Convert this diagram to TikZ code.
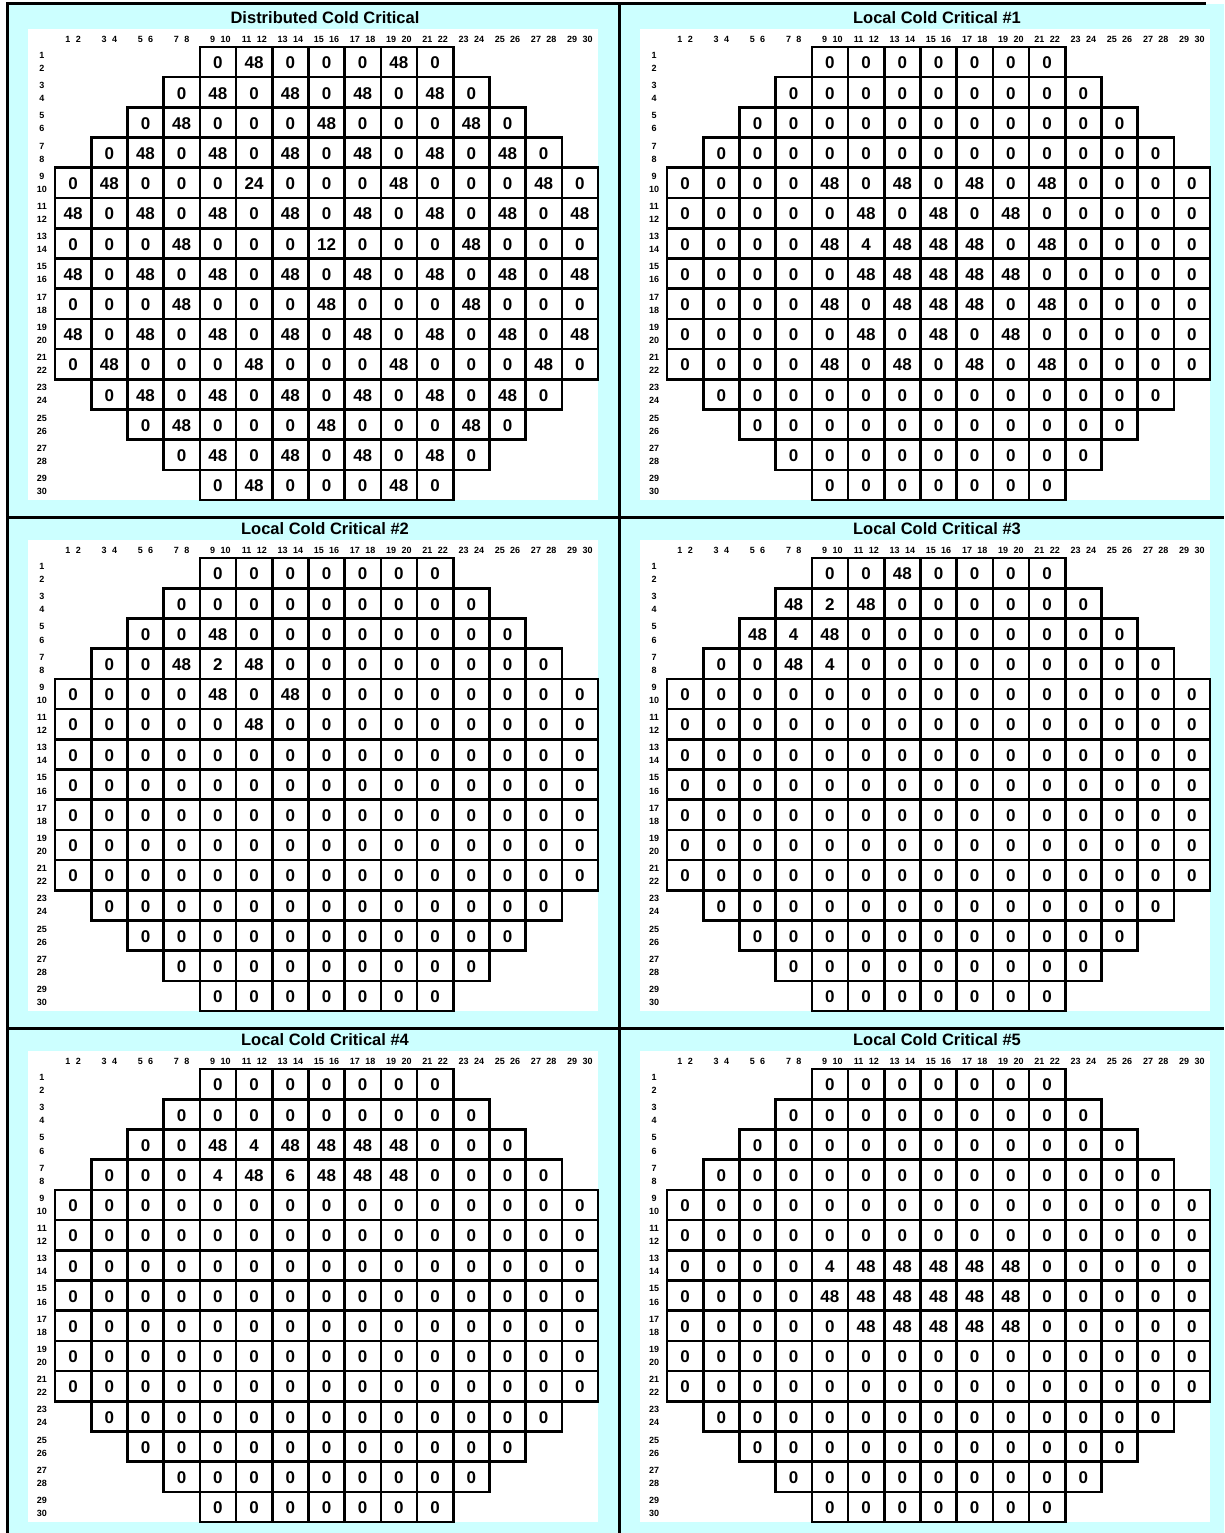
\documentclass[tikz,border=0pt]{standalone}
\usepackage{fontspec}
\setmainfont{Liberation Sans}
\definecolor{bgcyan}{RGB}{204,255,255}
\tikzset{
  valtext/.style={font=\fontsize{17}{17}\selectfont\bfseries, inner sep=0pt, anchor=center},
  smalltext/.style={font=\fontsize{9}{9}\selectfont\bfseries, inner sep=0pt},
  titletext/.style={font=\fontsize{16.5}{16.5}\selectfont\bfseries, inner sep=0pt},
  cellbox/.style={draw=black, line width=2.6pt},
  frameline/.style={draw=black, line width=3pt},
}
\newcommand\drawpanel[5]{%
  \begin{scope}[shift={(#1,#2)}]
    \fill[white] (28,29) rectangle (598,500);
    \node[titletext] (#4-title) at (325,18) {#3};
    \foreach \c in {0,...,14} {
      \pgfmathtruncatemacro\oddn{2*\c+1}
      \pgfmathtruncatemacro\evenn{2*\c+2}
      \node[smalltext, anchor=east] (#4-ch\oddn) at ({73.1+36.2*\c-2.5},39) {\oddn};
      \node[smalltext, anchor=west] (#4-ch\evenn) at ({73.1+36.2*\c+2.5},39) {\evenn};
      \node[smalltext] (#4-rh\oddn) at (42,{47+30.2*\c+8.5}) {\oddn};
      \node[smalltext] (#4-rh\evenn) at (42,{47+30.2*\c+21.5}) {\evenn};
    }
    \foreach \rowvals [count=\r from 0] in {#5} {
      \pgfmathtruncatemacro\st{max(0,4-\r,\r-10)}
      \foreach \v [count=\k from 0] in \rowvals {
        \pgfmathsetmacro\cx{55+36.2*(\st+\k)}
        \pgfmathsetmacro\ry{47+30.2*\r}
        \draw[cellbox] (\cx,\ry) rectangle ++(36.2,30.2);
        \node[valtext] (#4-\r-\k) at ({\cx+18.1},{\ry+16}) {\v};
      }
    }
  \end{scope}
}
\begin{document}
\begin{tikzpicture}[x=1pt,y=-1pt]
\useasboundingbox (0,0) rectangle (1224,1533);
\fill[white] (0,0) rectangle (1224,1533);
\fill[bgcyan] (8,4) rectangle (1224,1533);
\drawpanel{0}{0}{Distributed Cold Critical}{pa}{
{0,48,0,0,0,48,0},
{0,48,0,48,0,48,0,48,0},
{0,48,0,0,0,48,0,0,0,48,0},
{0,48,0,48,0,48,0,48,0,48,0,48,0},
{0,48,0,0,0,24,0,0,0,48,0,0,0,48,0},
{48,0,48,0,48,0,48,0,48,0,48,0,48,0,48},
{0,0,0,48,0,0,0,12,0,0,0,48,0,0,0},
{48,0,48,0,48,0,48,0,48,0,48,0,48,0,48},
{0,0,0,48,0,0,0,48,0,0,0,48,0,0,0},
{48,0,48,0,48,0,48,0,48,0,48,0,48,0,48},
{0,48,0,0,0,48,0,0,0,48,0,0,0,48,0},
{0,48,0,48,0,48,0,48,0,48,0,48,0},
{0,48,0,0,0,48,0,0,0,48,0},
{0,48,0,48,0,48,0,48,0},
{0,48,0,0,0,48,0}}
\drawpanel{612}{0}{Local Cold Critical \#1}{pb}{
{0,0,0,0,0,0,0},
{0,0,0,0,0,0,0,0,0},
{0,0,0,0,0,0,0,0,0,0,0},
{0,0,0,0,0,0,0,0,0,0,0,0,0},
{0,0,0,0,48,0,48,0,48,0,48,0,0,0,0},
{0,0,0,0,0,48,0,48,0,48,0,0,0,0,0},
{0,0,0,0,48,4,48,48,48,0,48,0,0,0,0},
{0,0,0,0,0,48,48,48,48,48,0,0,0,0,0},
{0,0,0,0,48,0,48,48,48,0,48,0,0,0,0},
{0,0,0,0,0,48,0,48,0,48,0,0,0,0,0},
{0,0,0,0,48,0,48,0,48,0,48,0,0,0,0},
{0,0,0,0,0,0,0,0,0,0,0,0,0},
{0,0,0,0,0,0,0,0,0,0,0},
{0,0,0,0,0,0,0,0,0},
{0,0,0,0,0,0,0}}
\drawpanel{0}{511}{Local Cold Critical \#2}{pc}{
{0,0,0,0,0,0,0},
{0,0,0,0,0,0,0,0,0},
{0,0,48,0,0,0,0,0,0,0,0},
{0,0,48,2,48,0,0,0,0,0,0,0,0},
{0,0,0,0,48,0,48,0,0,0,0,0,0,0,0},
{0,0,0,0,0,48,0,0,0,0,0,0,0,0,0},
{0,0,0,0,0,0,0,0,0,0,0,0,0,0,0},
{0,0,0,0,0,0,0,0,0,0,0,0,0,0,0},
{0,0,0,0,0,0,0,0,0,0,0,0,0,0,0},
{0,0,0,0,0,0,0,0,0,0,0,0,0,0,0},
{0,0,0,0,0,0,0,0,0,0,0,0,0,0,0},
{0,0,0,0,0,0,0,0,0,0,0,0,0},
{0,0,0,0,0,0,0,0,0,0,0},
{0,0,0,0,0,0,0,0,0},
{0,0,0,0,0,0,0}}
\drawpanel{612}{511}{Local Cold Critical \#3}{pd}{
{0,0,48,0,0,0,0},
{48,2,48,0,0,0,0,0,0},
{48,4,48,0,0,0,0,0,0,0,0},
{0,0,48,4,0,0,0,0,0,0,0,0,0},
{0,0,0,0,0,0,0,0,0,0,0,0,0,0,0},
{0,0,0,0,0,0,0,0,0,0,0,0,0,0,0},
{0,0,0,0,0,0,0,0,0,0,0,0,0,0,0},
{0,0,0,0,0,0,0,0,0,0,0,0,0,0,0},
{0,0,0,0,0,0,0,0,0,0,0,0,0,0,0},
{0,0,0,0,0,0,0,0,0,0,0,0,0,0,0},
{0,0,0,0,0,0,0,0,0,0,0,0,0,0,0},
{0,0,0,0,0,0,0,0,0,0,0,0,0},
{0,0,0,0,0,0,0,0,0,0,0},
{0,0,0,0,0,0,0,0,0},
{0,0,0,0,0,0,0}}
\drawpanel{0}{1022}{Local Cold Critical \#4}{pe}{
{0,0,0,0,0,0,0},
{0,0,0,0,0,0,0,0,0},
{0,0,48,4,48,48,48,48,0,0,0},
{0,0,0,4,48,6,48,48,48,0,0,0,0},
{0,0,0,0,0,0,0,0,0,0,0,0,0,0,0},
{0,0,0,0,0,0,0,0,0,0,0,0,0,0,0},
{0,0,0,0,0,0,0,0,0,0,0,0,0,0,0},
{0,0,0,0,0,0,0,0,0,0,0,0,0,0,0},
{0,0,0,0,0,0,0,0,0,0,0,0,0,0,0},
{0,0,0,0,0,0,0,0,0,0,0,0,0,0,0},
{0,0,0,0,0,0,0,0,0,0,0,0,0,0,0},
{0,0,0,0,0,0,0,0,0,0,0,0,0},
{0,0,0,0,0,0,0,0,0,0,0},
{0,0,0,0,0,0,0,0,0},
{0,0,0,0,0,0,0}}
\drawpanel{612}{1022}{Local Cold Critical \#5}{pf}{
{0,0,0,0,0,0,0},
{0,0,0,0,0,0,0,0,0},
{0,0,0,0,0,0,0,0,0,0,0},
{0,0,0,0,0,0,0,0,0,0,0,0,0},
{0,0,0,0,0,0,0,0,0,0,0,0,0,0,0},
{0,0,0,0,0,0,0,0,0,0,0,0,0,0,0},
{0,0,0,0,4,48,48,48,48,48,0,0,0,0,0},
{0,0,0,0,48,48,48,48,48,48,0,0,0,0,0},
{0,0,0,0,0,48,48,48,48,48,0,0,0,0,0},
{0,0,0,0,0,0,0,0,0,0,0,0,0,0,0},
{0,0,0,0,0,0,0,0,0,0,0,0,0,0,0},
{0,0,0,0,0,0,0,0,0,0,0,0,0},
{0,0,0,0,0,0,0,0,0,0,0},
{0,0,0,0,0,0,0,0,0},
{0,0,0,0,0,0,0}}
% frame lines
\coordinate (tl) at (7.5,4);
\coordinate (tr) at (1206,4);
\coordinate (bl) at (7.5,1533);
\draw[frameline] (6,4) -- (tr);
\draw[frameline] (tl) -- (bl);
\draw[frameline] (619,4) -- (619,1533);
\draw[frameline] (6,517) -- (1224,517);
\draw[frameline] (6,1028) -- (1224,1028);
\end{tikzpicture}
\end{document}
